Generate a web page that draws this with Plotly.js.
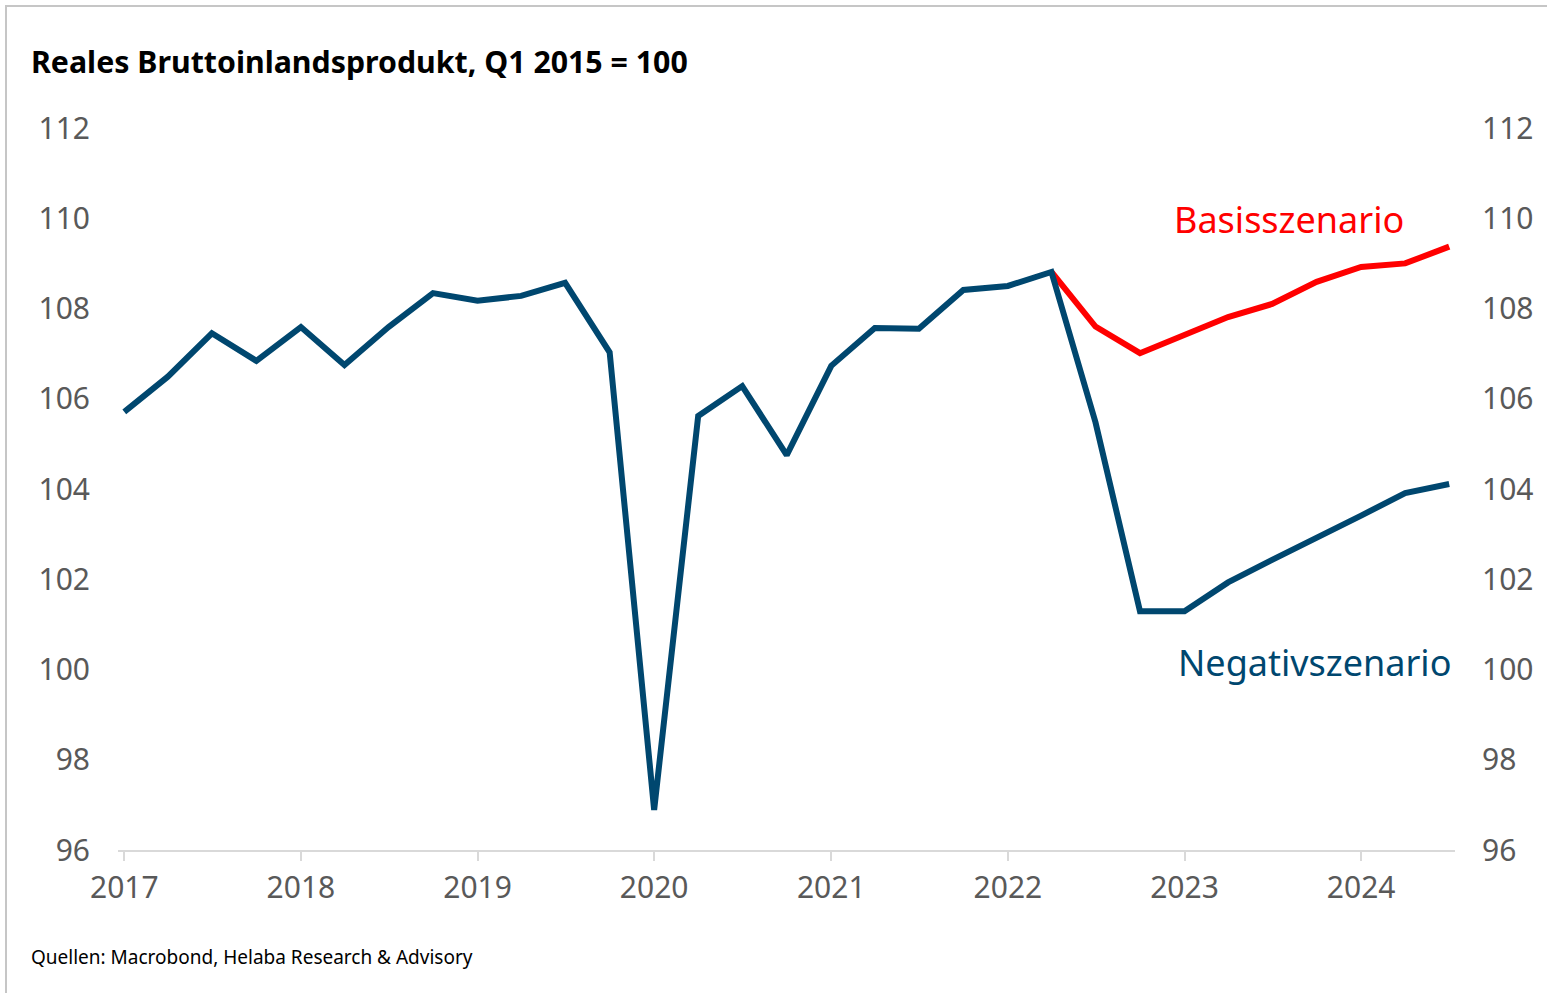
<!DOCTYPE html>
<html>
<head>
<meta charset="utf-8">
<script src="https://cdn.plot.ly/plotly-3.0.1.min.js"></script>
<style>
  html, body { margin: 0; padding: 0; background: #ffffff; }
  #frame { position: absolute; left: 5px; top: 5px; width: 1542px; height: 988px;
           border-top: 2px solid #c6c6c6; border-left: 2px solid #c6c6c6; box-sizing: border-box; }
  #chart { position: absolute; left: 0; top: 0; width: 1547px; height: 993px; }
</style>
</head>
<body>
<div id="frame"></div>
<div id="chart"></div>
<script>
// Quarterly dates (Q1 2017 .. Q3 2024)
const quarters = [
  '2017-01-01','2017-04-01','2017-07-01','2017-10-01',
  '2018-01-01','2018-04-01','2018-07-01','2018-10-01',
  '2019-01-01','2019-04-01','2019-07-01','2019-10-01',
  '2020-01-01','2020-04-01','2020-07-01','2020-10-01',
  '2021-01-01','2021-04-01','2021-07-01','2021-10-01',
  '2022-01-01','2022-04-01','2022-07-01','2022-10-01',
  '2023-01-01','2023-04-01','2023-07-01','2023-10-01',
  '2024-01-01','2024-04-01','2024-07-01'
];
// Negativszenario (history + negative scenario)
const negValues = [
  105.71, 106.49, 107.45, 106.84,
  107.59, 106.75, 107.59, 108.34,
  108.17, 108.28, 108.57, 107.03,
  96.89, 105.62, 106.28, 104.75,
  106.73, 107.57, 107.55, 108.41,
  108.50, 108.81, 105.48, 101.29,
  101.29, 101.93, 102.43, 102.91,
  103.41, 103.91, 104.11
];
// Basisszenario (starts Q2 2022)
const baseDates = quarters.slice(21);
const baseValues = [108.81, 107.60, 107.01, 107.41, 107.81, 108.10, 108.59, 108.92, 109.00, 109.37];

const yearTicks = ['2017-01-01','2018-01-01','2019-01-01','2020-01-01','2021-01-01','2022-01-01','2023-01-01','2024-01-01'];
const yearLabels = ['2017','2018','2019','2020','2021','2022','2023','2024'];
const yTicks = [96, 98, 100, 102, 104, 106, 108, 110, 112];

const blue = '#00476f';
const red = '#ff0000';
const grey = '#595959';
const FONT = 'Noto Sans, Open Sans, sans-serif';

const traces = [
  { x: baseDates, y: baseValues, type: 'scatter', mode: 'lines',
    line: { color: red, width: 6 }, hoverinfo: 'skip', showlegend: false },
  { x: quarters, y: negValues, type: 'scatter', mode: 'lines',
    line: { color: blue, width: 6 }, hoverinfo: 'skip', showlegend: false },
  { x: [quarters[0]], y: [negValues[0]], yaxis: 'y2', type: 'scatter', mode: 'lines',
    line: { width: 0 }, hoverinfo: 'skip', showlegend: false }
];

const layout = {
  width: 1547, height: 993,
  paper_bgcolor: 'rgba(0,0,0,0)', plot_bgcolor: 'rgba(0,0,0,0)',
  margin: { l: 118, r: 92, t: 128, b: 143 },
  font: { family: FONT, color: grey },
  title: { text: '<b>Reales Bruttoinlandsprodukt, Q1 2015 = 100</b>',
           xref: 'container', yref: 'container', x: 31/1547, xanchor: 'left',
           y: 1 - 62/993, yanchor: 'middle',
           font: { family: FONT, size: 30.3, color: '#000000' } },
  xaxis: {
    type: 'date', range: ['2016-12-19', '2024-07-13'],
    tickmode: 'array', tickvals: yearTicks, ticktext: yearLabels,
    showgrid: false, zeroline: false,
    showline: true, linecolor: '#d9d9d9', linewidth: 2,
    ticks: 'outside', ticklen: 9, tickwidth: 2, tickcolor: '#d9d9d9',
    tickfont: { family: FONT, size: 30, color: grey },
    ticklabelstandoff: 1
  },
  yaxis: {
    range: [96, 112], tickmode: 'array', tickvals: yTicks,
    showgrid: false, zeroline: false, showline: false, ticks: '',
    tickfont: { family: FONT, size: 30, color: grey },
    ticklabelstandoff: 27
  },
  yaxis2: {
    overlaying: 'y', side: 'right', anchor: 'x',
    range: [96, 112], tickmode: 'array', tickvals: yTicks,
    showgrid: false, zeroline: false, showline: false, ticks: '',
    tickfont: { family: FONT, size: 30, color: grey },
    ticklabelstandoff: 26
  },
  annotations: [
    { text: 'Basisszenario', xref: 'paper', yref: 'paper',
      x: (1289 - 118) / 1337, y: (850 - 219) / 722, xanchor: 'center', yanchor: 'middle',
      showarrow: false, font: { family: FONT, size: 36, color: red } },
    { text: 'Negativszenario', xref: 'paper', yref: 'paper',
      x: (1314 - 118) / 1337, y: (850 - 662) / 722, xanchor: 'center', yanchor: 'middle',
      showarrow: false, font: { family: FONT, size: 36, color: blue } },
    { text: 'Quellen: Macrobond, Helaba Research &amp; Advisory', xref: 'paper', yref: 'paper',
      x: (29 - 118) / 1337, y: (850 - 957) / 722, xanchor: 'left', yanchor: 'middle',
      showarrow: false, font: { family: FONT, size: 19, color: '#000000' } }
  ]
};

Plotly.newPlot('chart', traces, layout, { displayModeBar: false, staticPlot: true });
</script>
</body>
</html>
